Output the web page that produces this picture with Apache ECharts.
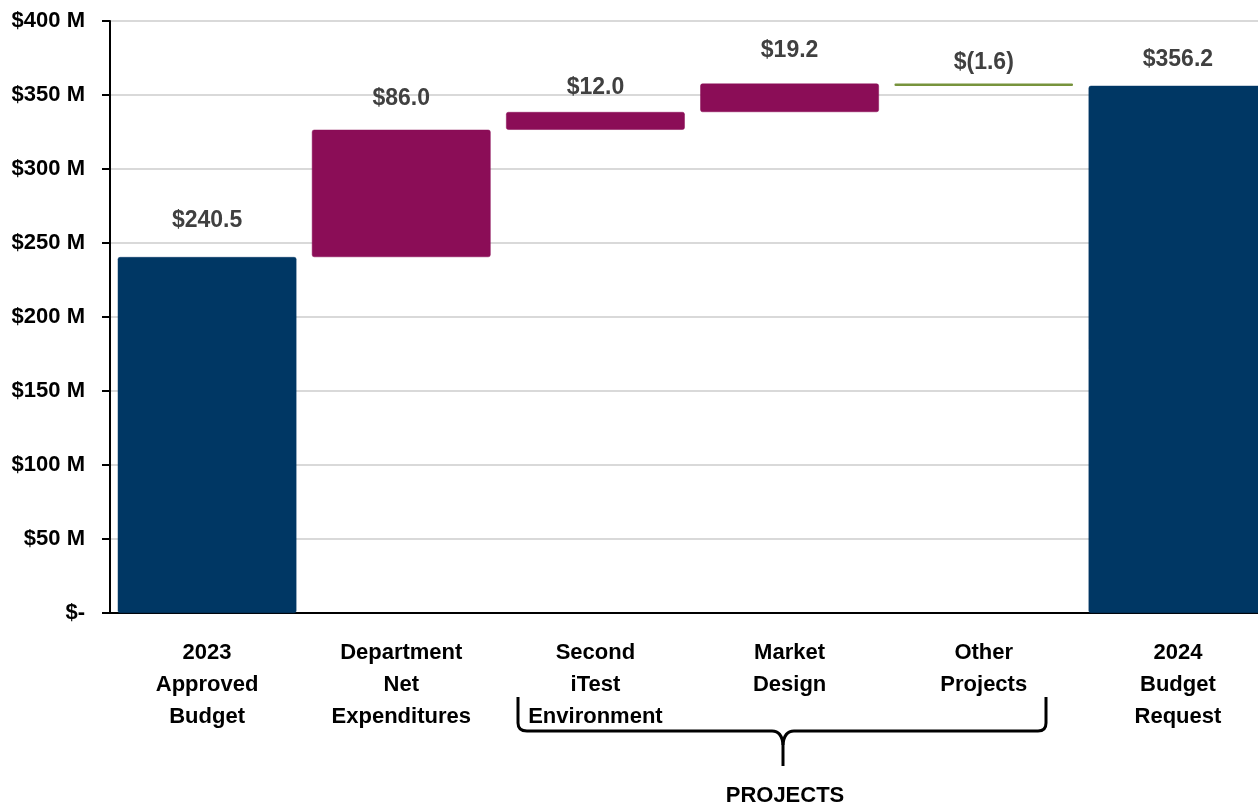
<!DOCTYPE html>
<html>
<head>
<meta charset="utf-8">
<script src="https://cdn.jsdelivr.net/npm/echarts@6/dist/echarts.min.js"></script>
<style>
  html, body { margin: 0; padding: 0; background: #fff; overflow: hidden; }
  /* plot runs past the right edge of the window, like the source slide */
  #chart { width: 1275px; height: 809px; }
</style>
</head>
<body>
<div id="chart"></div>
<script>
var categories = [
    "2023\nApproved\nBudget",
    "Department\nNet\nExpenditures",
    "Second\niTest\nEnvironment",
    "Market\nDesign",
    "Other\nProjects",
    "2024\nBudget\nRequest"
];
// step kind: total bars start at zero, others float on the running sum
var kinds = ["total", "step", "step", "step", "step", "total"];
var values = [240.5, 86.0, 12.0, 19.2, -1.6, 356.2];
var valueLabels = ["$240.5", "$86.0", "$12.0", "$19.2", "$(1.6)", "$356.2"];
var yTicks = [0, 50, 100, 150, 200, 250, 300, 350, 400];

// label gap above each bar (px), as placed on the slide
var labelGap = [25, 20, 13, 21, 9, 15];

var FONT = "'Liberation Sans', Arial, sans-serif";
var NAVY = "#003764", PLUM = "#8b0d57", GREEN = "#77933c";

// floating bases for the waterfall
var base = [], heights = [], colors = [];
var run = 0;
for (var i = 0; i < values.length; i++) {
    if (kinds[i] == "total") {
        base.push(0);
        heights.push(values[i]);
        colors.push(NAVY);
        run = values[i];
    } else if (values[i] >= 0) {
        base.push(run);
        heights.push(values[i]);
        colors.push(PLUM);
        run += values[i];
    } else {
        run += values[i];
        base.push(run);
        heights.push(-values[i]);
        colors.push(GREEN);
    }
}

// brace under the project columns
var braceStyle = { stroke: "#000", lineWidth: 3, fill: null };
function seg(x1, y1, x2, y2) {
    return { type: "line", shape: { x1: x1, y1: y1, x2: x2, y2: y2 }, style: braceStyle };
}
function curve(x1, y1, cx, cy, x2, y2) {
    return { type: "bezierCurve", shape: { x1: x1, y1: y1, cpx1: cx, cpy1: cy, x2: x2, y2: y2 }, style: braceStyle };
}
var brace = [
    seg(518, 697, 518, 723),
    curve(518, 723, 518, 731, 527, 731),
    seg(527, 731, 772, 731),
    curve(772, 731, 782, 731, 783, 745),
    seg(783, 745, 783, 766),
    curve(783, 745, 784, 731, 794, 731),
    seg(794, 731, 1038, 731),
    curve(1038, 731, 1046, 731, 1046, 723),
    seg(1046, 723, 1046, 697)
];

var chart = echarts.init(document.getElementById("chart"));
chart.setOption({
    animation: false,
    grid: { left: 110, right: 0, top: 21, bottom: 196, containLabel: false },
    xAxis: {
        type: "category",
        data: categories,
        axisLine: { lineStyle: { color: "#000", width: 2 } },
        axisTick: { show: false },
        axisLabel: {
            interval: 0,
            margin: 24,
            color: "#000",
            fontFamily: FONT,
            fontWeight: "bold",
            fontSize: 22,
            lineHeight: 32
        }
    },
    yAxis: {
        type: "value",
        min: yTicks[0],
        max: yTicks[yTicks.length - 1],
        interval: 50,
        axisLine: { show: true, lineStyle: { color: "#000", width: 2 } },
        axisTick: { show: true, length: 8, lineStyle: { color: "#000", width: 2 } },
        splitLine: { lineStyle: { color: "#d9d9d9", width: 2 } },
        axisLabel: {
            margin: 25,
            color: "#000",
            fontFamily: FONT,
            fontWeight: "bold",
            fontSize: 22,
            formatter: function (v) { return v == 0 ? "$-" : "$" + v + " M"; }
        }
    },
    series: [
        {
            type: "bar",
            stack: "w",
            data: base,
            barCategoryGap: "8%",
            itemStyle: { color: "transparent" },
            silent: true
        },
        {
            type: "bar",
            stack: "w",
            barCategoryGap: "8%",
            data: heights.map(function (h, i) {
                return {
                    value: h,
                    itemStyle: {
                        color: colors[i],
                        borderColor: colors[i],
                        borderWidth: kinds[i] == "step" && values[i] < 0 ? 2 : 0.5,
                        borderRadius: 2
                    },
                    label: { distance: labelGap[i] }
                };
            }),
            label: {
                show: true,
                position: "top",
                color: "#404040",
                fontFamily: FONT,
                fontWeight: "bold",
                fontSize: 23,
                formatter: function (p) { return valueLabels[p.dataIndex]; }
            }
        }
    ],
    graphic: brace.concat([
        {
            type: "text",
            x: 785,
            y: 796,
            style: {
                text: "PROJECTS",
                align: "center",
                verticalAlign: "middle",
                fill: "#000",
                font: "bold 22px " + FONT
            }
        }
    ])
});
</script>
</body>
</html>
